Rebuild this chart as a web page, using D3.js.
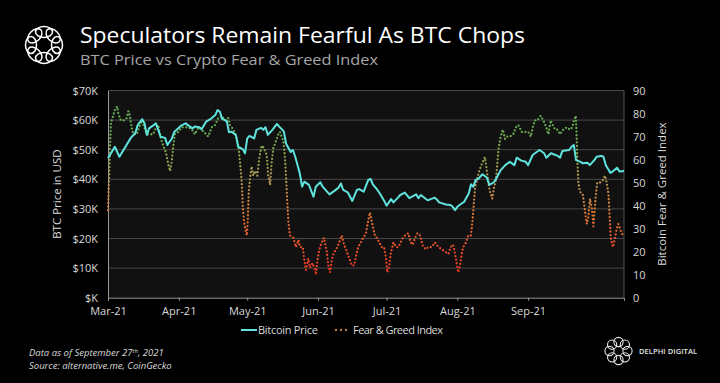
<!DOCTYPE html>
<html>
<head>
<meta charset="utf-8">
<script src="https://cdn.jsdelivr.net/npm/d3@7"></script>
<style>
  html, body { margin: 0; padding: 0; background: #000; }
  svg { display: block; font-family: "Open Sans", "Noto Sans", sans-serif; }
</style>
</head>
<body>
<div id="chart"></div>
<script>
// x values are days counted from 1 Mar 2021
const monthDays = [0, 31, 61, 92, 122, 153, 184];
const monthLabels = ["Mar-21", "Apr-21", "May-21", "Jun-21", "Jul-21", "Aug-21", "Sep-21"];

const priceTicks = [0, 10, 20, 30, 40, 50, 60, 70];   // thousands USD
const fgTicks = [0, 10, 20, 30, 40, 50, 60, 70, 80, 90];

// BTC price, thousands USD
const priceDay = [0,3,5,10,12,13,15,16,17,18,20,21,22,23,25,26,28,29,32,34,
  35,37,38,40,41,43,45,47,48,49,50,52,53,54,56,57,59,60,61,62,
  64,65,67,68,69,70,72,74,75,77,78,80,81,82,83,84,85,86,88,90,
  91,93,94,97,99,101,102,103,105,107,109,110,112,114,115,116,118,119,121,122,
  124,125,127,128,130,132,133,135,136,137,140,143,144,145,148,150,151,152,153,155,
  156,158,159,160,161,162,164,166,167,169,170,172,174,176,178,179,181,183,184,186,
  187,189,191,192,194,197,198,199,202,203,204,205,207,208,210,211,213,214,216,217,
  218,220,221,223,224,226];
const priceK = [47.1,51,47.6,54,55.7,58.3,60.3,58.9,55,57.2,58.3,58.9,56.7,54.4,54,51.6,53.8,56,58.1,58.9,
  58.3,57.2,57.8,57.6,56.9,59.5,60.4,61.7,63.4,62.8,60.4,59.7,55.9,56.1,55,51,50.2,48.8,53.8,54.7,
  53.8,56.7,57.4,56.7,57.6,55,56.7,58.7,57.8,56.2,52,49.2,49.9,47.6,44.8,42,37.5,39.2,38.1,34.1,
  37.5,39,37.5,34.9,36,37.2,38.6,36.4,35.6,32.7,36.4,36.7,35.8,39.8,40.1,38.3,36.4,35.3,32.7,31.1,
  33.3,32.2,33.8,34.7,35.5,33.6,34.1,34.9,33.6,34.7,32.9,33.8,33.2,32.2,31.5,31.3,30.7,29.6,30.7,31.9,
  32.4,35.2,38.3,37.5,39.8,40,41.7,40.5,38.1,39,40.2,43.1,44.8,45.9,44.8,47.3,46.3,45.9,44.8,48.2,
  48.8,49.9,48.8,47.3,48.8,47.9,47.3,49.6,49.9,51,51.6,46.5,45.9,45.4,45.6,44.8,46.5,47.6,47.9,47.6,
  44.8,42.2,42.6,43.9,42.6,42.8];

// Fear & Greed index
const fgDay = [0,0.9,1.3,2.3,3.1,4.1,4.5,5.6,7,8.2,8.9,9.6,10,10.6,11.1,12.6,13.3,14.8,15.5,17,
  18.4,19.8,20.6,22,22.8,23.5,24.2,25.4,26.4,27.2,27.9,28.6,29.3,30.8,32.3,33.7,35.2,36.7,38.1,39.6,
  41,42.9,43.9,45.4,46.9,48.3,49.8,51.2,52.7,53.4,54.9,56.1,57.1,57.8,58.6,59,59.6,60.3,60.8,61.2,
  61.6,62.2,62.9,63.6,64.4,65.4,66.3,67.3,68.3,69.5,70.2,71,71.7,72.4,73.6,74.6,75.3,76.8,77.5,78,
  78.5,79,79.7,81.2,82.3,83.4,84.1,85.3,85.9,86.7,87.7,88.5,89.6,90.7,91.1,91.7,92.6,93.6,94.6,95.8,
  96.5,97.2,98,98.7,99.9,100.9,102.4,103.4,104.6,105.7,106.8,107.8,108.6,109.6,110.7,111.8,113,113.7,114.5,114.8,
  115.5,116.2,116.9,117.7,118.8,119.9,120.9,121.8,122.3,123.2,123.8,125,126.2,127.2,128.2,129.1,130.1,131.5,132.6,133.5,
  134.5,135.5,136.7,137.4,138.1,139.3,140.3,141.8,143.2,144.7,146.2,147.6,149.1,150.1,151.2,152,152.7,153.4,154.2,154.9,
  155.6,156.8,157.8,158.9,159.3,159.7,160.3,160.8,161.5,162.6,163.7,165.1,165.8,166.6,167.3,168.3,169.1,169.9,170.5,171.1,
  172,172.9,173.9,174.6,176.1,177.5,178.7,179.7,181.2,182.7,184.1,185.2,186,187,188,189.5,190.7,191.9,192.9,193.9,
  194.8,195.8,196.8,198,199.4,200.9,202.4,203.4,204.1,204.9,205.3,205.6,206,206.7,207.9,208.5,209,209.7,210.4,211.1,
  211.9,212.6,213.3,213.7,214.3,215.5,216.7,217.7,218.4,219.2,219.6,220.2,221.1,222.1,222.8,223.5,224.6,225.5];
const fgValue = [38,66,76,79,82,83,80,77,77,78,81,79,76,73,71,71,73,77,75,71,
  71,71,73,75,71,68,66,63,58,55,59,66,71,72,74,74,74,73,71,74,
  73,71,70,74,75,78,79,77,78,75,73,70,66,59,50,40,33,29,27,33,
  45,52,57,53,55,53,61,66,65,62,53,49,59,65,68,71,72,68,61,52,
  42,33,27,26,22,25,22,22,17,12,17,13,15,12,10,16,21,24,26,20,
  14,11,16,19,21,23,27,23,20,17,14,14,18,22,24,26,28,32,36,37,
  33,30,27,26,24,22,22,17,11,14,19,24,22,22,24,26,27,28,24,23,
  26,28,27,24,22,21,22,22,24,22,21,20,19,22,23,19,15,11,14,19,
  22,24,27,27,30,34,42,48,51,55,58,61,56,50,46,43,48,51,58,65,
  70,73,69,70,70,71,74,75,72,72,72,70,74,77,77,79,77,74,71,77,
  75,73,73,71,73,74,73,74,77,79,69,59,50,46,45,41,37,32,35,43,
  39,31,40,45,50,50,51,53,50,45,37,26,22,26,30,32,29,27];

const W = 720, H = 383;
const plot = { left: 108, right: 624, top: 90.5, bottom: 297.7 };
const cyan = "#5fe3df";
const textCol = "#d9d9d9";

const svg = d3.select("#chart").append("svg").attr("width", W).attr("height", H);
svg.append("rect").attr("width", W).attr("height", H).attr("fill", "#000");

// header logo: ring of interlocking loops
const logo = svg.append("g").attr("transform", "translate(44,45)")
  .attr("fill", "none").attr("stroke", "#fff").attr("stroke-width", 1.5);
d3.range(8).forEach(i => {
  logo.append("ellipse").attr("cx", 0).attr("cy", -13).attr("rx", 8.5).attr("ry", 5.5)
    .attr("transform", `rotate(${i * 45})`);
});

svg.append("text").attr("x", 80).attr("y", 43).attr("fill", "#fff")
  .attr("font-size", 22).attr("textLength", 445).attr("lengthAdjust", "spacingAndGlyphs")
  .text("Speculators Remain Fearful As BTC Chops");
svg.append("text").attr("x", 80).attr("y", 64.5).attr("fill", "#a6a6a6")
  .attr("font-size", 15).attr("textLength", 298).attr("lengthAdjust", "spacingAndGlyphs")
  .text("BTC Price vs Crypto Fear & Greed Index");

// scales
const x = d3.scaleLinear().domain([0, 226]).range([plot.left, plot.right]);
const yL = d3.scaleLinear().domain([0, 70]).range([plot.bottom, plot.top]);
const yR = d3.scaleLinear().domain([0, 90]).range([plot.bottom, plot.top]);

// plot area + grid
svg.append("rect").attr("x", plot.left).attr("y", plot.top)
  .attr("width", plot.right - plot.left).attr("height", plot.bottom - plot.top)
  .attr("fill", "#111");
svg.append("g").selectAll("line").data(priceTicks.slice(1)).join("line")
  .attr("x1", plot.left).attr("x2", plot.right)
  .attr("y1", d => yL(d)).attr("y2", d => yL(d))
  .attr("stroke", "#484848").attr("stroke-width", 1);
svg.append("line").attr("x1", plot.right).attr("x2", plot.right)
  .attr("y1", plot.top).attr("y2", plot.bottom).attr("stroke", "#555");

// left axis
const axL = svg.append("g").attr("transform", `translate(${plot.left},0)`)
  .call(d3.axisLeft(yL).tickValues(priceTicks).tickSize(0).tickPadding(10)
    .tickFormat(d => "$" + (d === 0 ? "" : d) + "K"));
axL.select(".domain").attr("stroke", "#9a9a9a");
axL.selectAll("text").attr("fill", textCol).attr("font-size", 11).attr("font-family", "Open Sans");

// right axis
const axR = svg.append("g").attr("transform", `translate(${plot.right},0)`)
  .call(d3.axisRight(yR).tickValues(fgTicks).tickSize(0).tickPadding(9));
axR.select(".domain").remove();
axR.selectAll("text").attr("fill", textCol).attr("font-size", 11).attr("font-family", "Open Sans");

// bottom axis
const axB = svg.append("g").attr("transform", `translate(0,${plot.bottom})`)
  .call(d3.axisBottom(x).tickValues(monthDays).tickSize(3).tickPadding(7)
    .tickFormat((d, i) => monthLabels[i]));
axB.select(".domain").attr("stroke", "#9a9a9a");
axB.selectAll("line").attr("stroke", "#9a9a9a");
axB.selectAll("text").attr("fill", textCol).attr("font-size", 11).attr("font-family", "Open Sans");

// axis titles
svg.append("text").attr("transform", `translate(61,${(plot.top + plot.bottom) / 2}) rotate(-90)`)
  .attr("text-anchor", "middle").attr("fill", textCol).attr("font-size", 11.5)
  .text("BTC Price in USD");
svg.append("text").attr("transform", `translate(666,${(plot.top + plot.bottom) / 2}) rotate(-90)`)
  .attr("text-anchor", "middle").attr("fill", textCol).attr("font-size", 11.5)
  .text("Bitcoin Fear & Greed Index");

// gradient for fear & greed dots: red when fearful, green when greedy
const grad = svg.append("defs").append("linearGradient").attr("id", "fgGrad")
  .attr("gradientUnits", "userSpaceOnUse")
  .attr("x1", 0).attr("x2", 0).attr("y1", yR(10)).attr("y2", yR(75));
[[0, "#ea341f"], [0.23, "#e6562a"], [0.43, "#d97b35"], [0.6, "#bb924f"],
 [0.77, "#8fa24c"], [1, "#62ac4f"]].forEach(s => {
  grad.append("stop").attr("offset", s[0]).attr("stop-color", s[1]);
});

const fgData = fgDay.map((d, i) => [d, fgValue[i]]);
const priceData = priceDay.map((d, i) => [d, priceK[i]]);

svg.append("path").datum(fgData)
  .attr("d", d3.line().x(d => x(d[0])).y(d => yR(d[1])))
  .attr("fill", "none").attr("stroke", "url(#fgGrad)")
  .attr("stroke-width", 2.3).attr("stroke-linecap", "round")
  .attr("stroke-dasharray", "0 3.6");

svg.append("path").datum(priceData)
  .attr("d", d3.line().x(d => x(d[0])).y(d => yL(d[1])))
  .attr("fill", "none").attr("stroke", cyan)
  .attr("stroke-width", 2).attr("stroke-linejoin", "round");

// legend
const lg = svg.append("g").attr("font-size", 11).attr("fill", textCol);
lg.append("line").attr("x1", 241).attr("x2", 257).attr("y1", 330).attr("y2", 330)
  .attr("stroke", cyan).attr("stroke-width", 2);
lg.append("text").attr("x", 258).attr("y", 334).attr("textLength", 60).text("Bitcoin Price");
lg.append("line").attr("x1", 336).attr("x2", 347).attr("y1", 330).attr("y2", 330)
  .attr("stroke", "#c08650").attr("stroke-width", 2.3)
  .attr("stroke-linecap", "round").attr("stroke-dasharray", "0 5");
lg.append("text").attr("x", 353).attr("y", 334).attr("textLength", 90).text("Fear & Greed Index");

// footnote
const fn = svg.append("g").attr("font-size", 9.5).attr("font-style", "italic").attr("fill", textCol);
const t1 = fn.append("text").attr("x", 29).attr("y", 356);
t1.append("tspan").text("Data as of September 27");
t1.append("tspan").attr("font-size", 6).attr("dy", -3.5).text("th");
t1.append("tspan").attr("dy", 3.5).text(", 2021");
fn.append("text").attr("x", 29).attr("y", 369).text("Source: alternative.me,  CoinGecko");

// Delphi Digital mark
const dl = svg.append("g").attr("transform", "translate(618.5,351)")
  .attr("fill", "none").attr("stroke", "#e6e6e6").attr("stroke-width", 1.1);
d3.range(8).forEach(i => {
  const a = i * Math.PI / 4;
  dl.append("circle").attr("cx", 9 * Math.sin(a)).attr("cy", -9 * Math.cos(a)).attr("r", 4.6);
});
svg.append("text").attr("x", 639).attr("y", 354).attr("fill", "#e6e6e6")
  .attr("font-size", 7.5).attr("font-weight", 600)
  .attr("textLength", 58).attr("lengthAdjust", "spacing")
  .text("DELPHI DIGITAL");
</script>
</body>
</html>
